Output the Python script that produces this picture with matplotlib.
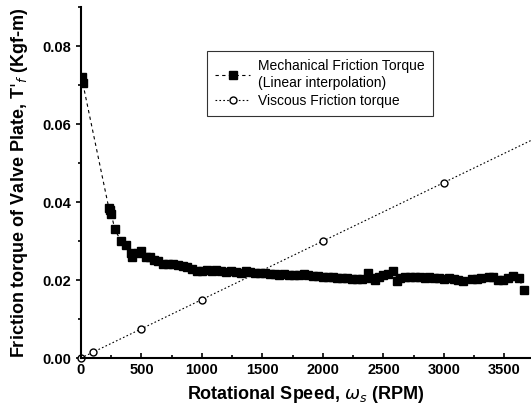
import matplotlib
matplotlib.use('Agg')
import matplotlib.pyplot as plt
from matplotlib.ticker import MultipleLocator

plt.rcParams['font.family'] = ['Liberation Sans', 'DejaVu Sans']

# mechanical friction torque (measured)
mech_rpm = [10, 15, 230, 240, 250, 280, 330, 370, 410, 420, 470, 500, 540, 570,
            600, 640, 680, 720, 760, 800, 840, 880, 920, 960, 1000, 1040, 1080,
            1120, 1160, 1200, 1240, 1280, 1320, 1360, 1400, 1440, 1480, 1520,
            1560, 1600, 1640, 1680, 1720, 1760, 1800, 1840, 1880, 1920, 1960,
            2000, 2040, 2080, 2120, 2160, 2200, 2240, 2280, 2320, 2370, 2400,
            2430, 2460, 2500, 2540, 2580, 2610, 2640, 2680, 2720, 2760, 2800,
            2840, 2880, 2920, 2960, 3000, 3040, 3080, 3120, 3160, 3230, 3270,
            3310, 3370, 3410, 3450, 3490, 3530, 3570, 3620, 3660]
mech_torque = [0.072, 0.0705, 0.0385, 0.038, 0.037, 0.033, 0.030, 0.029, 0.027,
               0.026, 0.027, 0.0275, 0.026, 0.0258, 0.0252, 0.025, 0.024, 0.0242,
               0.024, 0.0238, 0.0236, 0.0233, 0.0228, 0.0224, 0.0222, 0.0225,
               0.0222, 0.0226, 0.0224, 0.022, 0.0222, 0.022, 0.0218, 0.0222,
               0.0221, 0.0219, 0.0218, 0.0217, 0.0215, 0.0216, 0.0214, 0.0215,
               0.0213, 0.0212, 0.0214, 0.0215, 0.0213, 0.0211, 0.021, 0.0209,
               0.0208, 0.0207, 0.0206, 0.0205, 0.0204, 0.0203, 0.0202, 0.0203,
               0.0219, 0.0205, 0.0200, 0.0208, 0.0212, 0.0215, 0.0222, 0.0198,
               0.0206, 0.0208, 0.0207, 0.0209, 0.0208, 0.0206, 0.0207, 0.0204,
               0.0205, 0.0203, 0.0204, 0.0202, 0.0199, 0.0197, 0.0202, 0.0203,
               0.0204, 0.0208, 0.0207, 0.0201, 0.0200, 0.0205, 0.0211, 0.0205,
               0.0175]

# viscous friction torque (last point only extends the line)
visc_rpm = [0, 100, 500, 1000, 2000, 3000, 3750]
visc_torque = [0.0, 0.0015, 0.0075, 0.015, 0.030, 0.045, 0.05625]

fig = plt.figure(figsize=(5.31, 4.18), dpi=100)
ax = fig.add_axes([0.1525, 0.1435, 0.8475, 0.8395])

ax.plot(mech_rpm, mech_torque, color='black', lw=0.8, ls=(0, (3, 3)),
        marker='s', ms=5.5, mfc='black', mec='black',
        label='Mechanical Friction Torque\n(Linear interpolation)')
ax.plot(visc_rpm, visc_torque, color='black', lw=0.8, ls=(0, (1.5, 2)),
        marker='o', ms=5, mfc='white', mec='black', markevery=list(range(6)),
        clip_on=False, label='Viscous Friction torque')

ax.set_xlim(0, 3720)
ax.set_ylim(0, 0.09)
ax.xaxis.set_major_locator(MultipleLocator(500))
ax.xaxis.set_minor_locator(MultipleLocator(250))
ax.yaxis.set_major_locator(MultipleLocator(0.02))
ax.yaxis.set_minor_locator(MultipleLocator(0.01))
ax.yaxis.set_major_formatter(plt.FormatStrFormatter('%.2f'))
ax.spines['top'].set_visible(False)
ax.spines['right'].set_visible(False)
ax.spines['left'].set_linewidth(1.5)
ax.spines['bottom'].set_linewidth(1.5)
ax.tick_params(axis='x', which='both', direction='in', width=1.2)
ax.tick_params(axis='y', which='both', direction='out', width=1.2)
for lab in ax.get_xticklabels() + ax.get_yticklabels():
    lab.set_fontweight('bold')
    lab.set_fontsize(10.5)

ax.set_xlabel(r'Rotational Speed, $\omega_s$ (RPM)', fontsize=13,
              fontweight='bold', labelpad=5)
ax.set_ylabel(r"Friction torque of Valve Plate, T$'_f$ (Kgf-m)", fontsize=13,
              fontweight='bold', labelpad=9)

leg = ax.legend(loc='upper left', bbox_to_anchor=(0.28, 0.875), borderaxespad=0,
                fontsize=10, frameon=True, fancybox=False, edgecolor='black',
                handlelength=2.5, handletextpad=0.6, borderpad=0.6,
                labelspacing=0.3)
leg.get_frame().set_linewidth(0.8)

fig.savefig('out.png', dpi=100)
